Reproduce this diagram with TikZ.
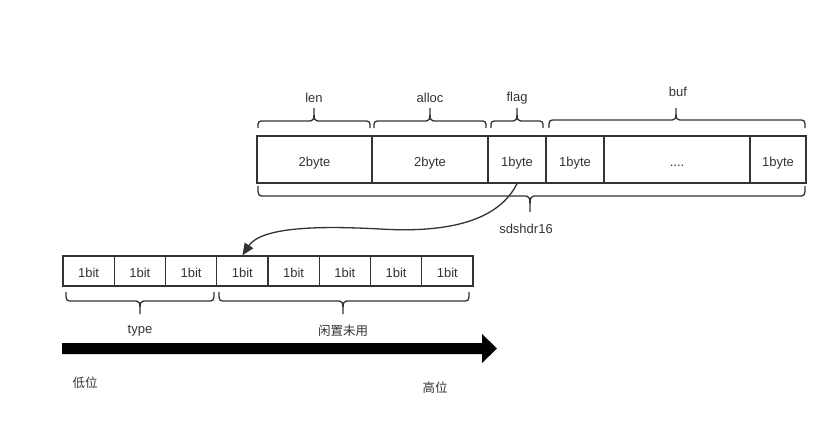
\documentclass[tikz,border=0pt]{standalone}
\usepackage{fontspec}
\setmainfont{Liberation Sans}
\newfontfamily\cjk{Noto Sans CJK SC}
\usetikzlibrary{arrows.meta}
\definecolor{ink}{HTML}{333333}
\newcommand{\drawbrace}[6]{%
  \draw[bracestyle] (#1,#4) .. controls (#1,#5) .. (#1+7,#5) -- (#3-7,#5)
    .. controls (#3,#5) .. (#3,#6) .. controls (#3,#5) .. (#3+7,#5)
    -- (#2-7,#5) .. controls (#2,#5) .. (#2,#4);}
\tikzset{
  cell/.style={draw=ink, line width=1.3pt, text=ink, inner sep=0pt, text height=13pt, text depth=0pt, font=\fontsize{13}{15}\selectfont},
  bracestyle/.style={draw=ink, line width=1.3pt},
  lbl/.style={text=ink, inner sep=0pt, font=\fontsize{13}{15}\selectfont},
  clbl/.style={text=ink, inner sep=0pt, font=\cjk\fontsize{12.5}{14}\selectfont},
}
\begin{document}
\begin{tikzpicture}[x=1pt,y=-1pt]
\useasboundingbox (0,0) rectangle (832,431);
% top row
\node[cell, minimum width=115pt, minimum height=47pt] (b1) at (314.5,159.5) {2byte};
\node[cell, minimum width=116pt, minimum height=47pt] (b2) at (430,159.5) {2byte};
\node[cell, minimum width=58pt, minimum height=47pt] (b3) at (517,159.5) {1byte};
\node[cell, minimum width=58pt, minimum height=47pt] (b4) at (575,159.5) {1byte};
\node[cell, minimum width=146pt, minimum height=47pt] (b5) at (677,159.5) {....};
\node[cell, minimum width=56pt, minimum height=47pt] (b6) at (778,159.5) {1byte};
% top braces
\drawbrace{258}{370}{314}{128}{121}{108}
\drawbrace{374}{486}{430}{128}{121}{108}
\drawbrace{491}{543}{517}{128}{121}{108}
\drawbrace{549}{805}{676}{128}{120}{108}
\node[lbl] (llen) at (314,98) {len};
\node[lbl] (lalloc) at (430,98) {alloc};
\node[lbl] (lflag) at (517,98) {flag};
\node[lbl] (lbuf) at (678,92) {buf};
% bottom brace
\drawbrace{258}{805}{530}{186}{196}{212}
\node[lbl] (lsds) at (526,229) {sdshdr16};
% bit row
\foreach \i in {0,...,7}{
  \node[cell, minimum width=51.25pt, minimum height=30pt] (bit\i) at (63+25.625+\i*51.25,271) {1bit};
}
\drawbrace{66}{214}{140}{292}{301}{314}
\drawbrace{219}{469}{343}{292}{301}{314}
\node[lbl] (ltype) at (140,331) {type};
\node[clbl] (lfree) at (343,331) {闲置未用};
% connector
\draw[ink, line width=1.3pt, -{Triangle[length=12pt,width=10pt]}]
  (b3.south) .. controls (495,228) and (430,232) .. (380,229)
  .. controls (325,226) and (262,226) .. (bit3.north);
% big arrow
\fill[black] (62,343) -- (482,343) -- (482,334) -- (497,348.5) -- (482,363) -- (482,354) -- (62,354) -- cycle;
\node[clbl] (llow) at (85,383) {低位};
\node[clbl] (lhigh) at (435,388) {高位};
\end{tikzpicture}
\end{document}
